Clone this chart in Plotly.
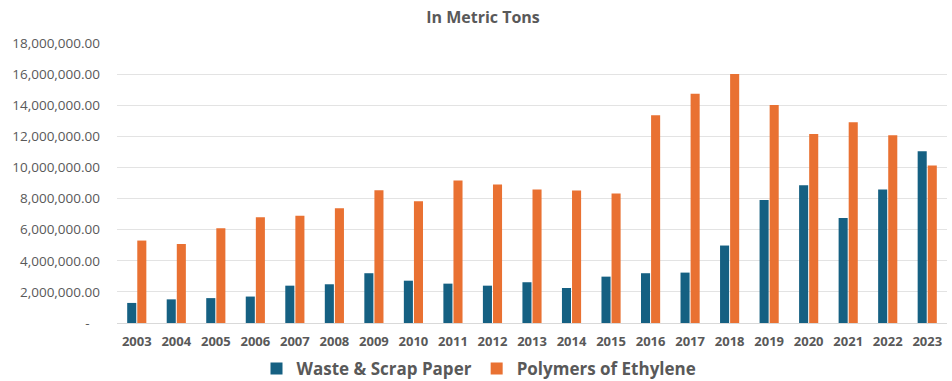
import plotly.graph_objects as go

years = [str(y) for y in range(2003, 2024)]
waste_paper = [1.29e6, 1.52e6, 1.60e6, 1.70e6, 2.40e6, 2.49e6, 3.20e6, 2.72e6, 2.53e6,
               2.40e6, 2.62e6, 2.25e6, 2.98e6, 3.20e6, 3.24e6, 4.98e6, 7.91e6, 8.86e6,
               6.75e6, 8.58e6, 11.04e6]
polyethylene = [5.30e6, 5.08e6, 6.09e6, 6.80e6, 6.90e6, 7.38e6, 8.53e6, 7.83e6, 9.16e6,
                8.90e6, 8.58e6, 8.51e6, 8.32e6, 13.36e6, 14.73e6, 16.0e6, 14.02e6, 12.15e6,
                12.9e6, 12.07e6, 10.12e6]
tick_vals = [0, 2e6, 4e6, 6e6, 8e6, 10e6, 12e6, 14e6, 16e6, 18e6]
tick_text = ["-\u00a0\u00a0\u00a0"] + [f"{v:,.2f}" for v in tick_vals[1:]]

grey = "#595959"
font_family = "Open Sans, Inter, Arial, sans-serif"

fig = go.Figure()
fig.add_trace(go.Bar(x=years, y=waste_paper, name="<b>Waste & Scrap Paper</b>",
                     marker=dict(color="#156082", line=dict(width=0))))
fig.add_trace(go.Bar(x=years, y=polyethylene, name="<b>Polymers of Ethylene</b>",
                     marker=dict(color="#E97132", line=dict(width=0))))

fig.update_layout(
    width=952, height=381,
    margin=dict(l=117, r=5, t=43, b=58),
    paper_bgcolor="white", plot_bgcolor="white",
    barmode="group", bargap=0.49, bargroupgap=0.1,
    font=dict(family=font_family, color=grey),
    title=dict(text="<b>In Metric Tons</b>", x=483/952, xanchor="center",
               y=1 - 17/381, yanchor="middle", yref="container",
               font=dict(size=16, color=grey, family=font_family)),
    xaxis=dict(tickfont=dict(size=13, color=grey, family=font_family),
               showgrid=False, showline=True, linecolor="#D9D9D9", linewidth=1,
               ticks="", ticklabelstandoff=6, automargin=False,
               tickprefix="<b>", ticksuffix="</b>"),
    yaxis=dict(range=[0, 18e6], tickvals=tick_vals, ticktext=tick_text,
               tickfont=dict(size=13.5, color=grey, family=font_family),
               showgrid=True, gridcolor="#E3E3E3", gridwidth=1,
               zeroline=False, showline=False, ticks="", ticklabelstandoff=16,
               automargin=False,
               tickprefix="<b>", ticksuffix="</b>"),
    legend=dict(orientation="h", xref="container", yref="container",
                x=479/952, xanchor="center", y=1 - 369/381, yanchor="middle",
                font=dict(size=17, color=grey, family=font_family),
                itemwidth=30, traceorder="normal"),
)

fig.write_html("out.html")
